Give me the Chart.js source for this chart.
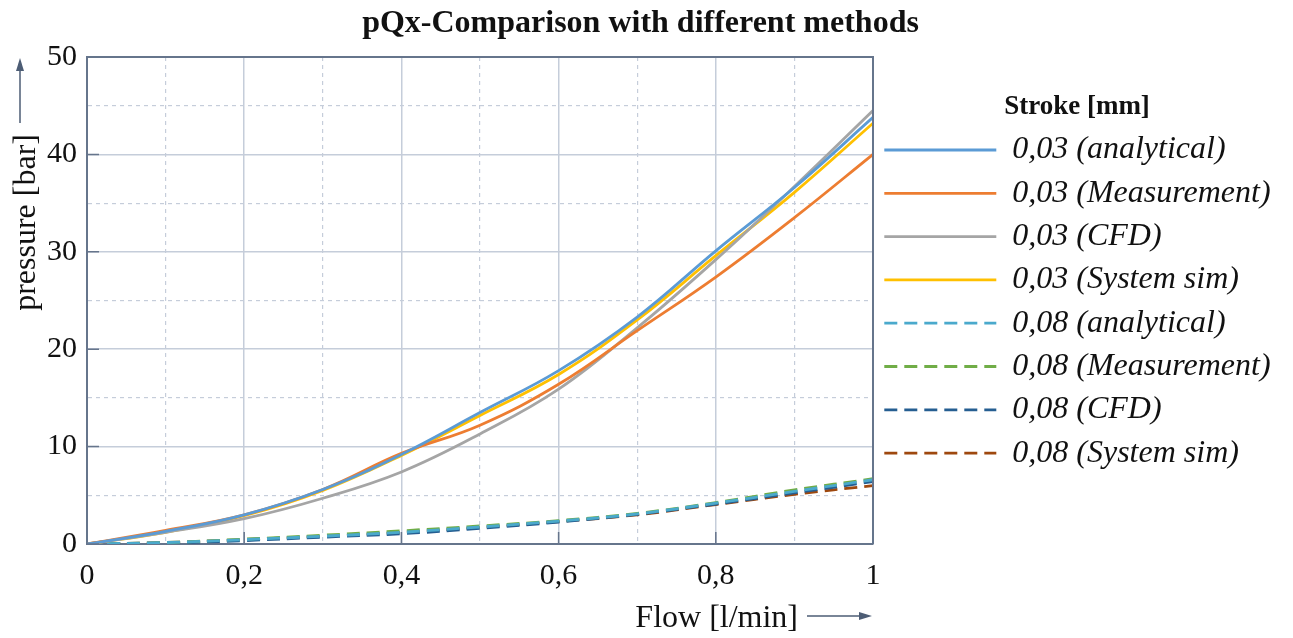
<!DOCTYPE html>
<html>
<head>
<meta charset="utf-8">
<script src="https://cdn.jsdelivr.net/npm/chart.js@4.4.1/dist/chart.umd.min.js"></script>
<style>
  html, body { margin: 0; padding: 0; background: #fff; }
</style>
</head>
<body>
<canvas id="pqxChart" width="1293" height="638"></canvas>
<script>
// flow in l/min, pressure in bar
var flow = [0, 0.1, 0.2, 0.3, 0.4, 0.5, 0.6, 0.7, 0.8, 0.9, 1.0];

var seriesLabels = [
  '0,03 (analytical)', '0,03 (Measurement)', '0,03 (CFD)', '0,03 (System sim)',
  '0,08 (analytical)', '0,08 (Measurement)', '0,08 (CFD)', '0,08 (System sim)'
];

var s003Analytical  = [0, 1.3, 3.0, 5.6, 9.2, 13.5, 17.8, 23.3, 30.1, 36.6, 43.8];
var s003Measurement = [0, 1.4, 3.0, 5.6, 9.3, 12.2, 16.4, 21.9, 27.4, 33.5, 40.0];
var s003Cfd         = [0, 1.2, 2.6, 4.7, 7.4, 11.3, 15.9, 22.2, 29.2, 36.7, 44.5];
var s003SystemSim   = [0, 1.2, 2.9, 5.5, 9.1, 13.2, 17.4, 23.0, 29.6, 36.1, 43.2];

var s008Analytical  = [0, 0.15, 0.45, 0.8, 1.2, 1.75, 2.35, 3.1, 4.2, 5.4, 6.6];
var s008Measurement = [0, 0.15, 0.5, 0.9, 1.35, 1.85, 2.4, 3.15, 4.25, 5.55, 6.7];
var s008Cfd         = [0, 0.1, 0.35, 0.7, 1.05, 1.6, 2.25, 3.05, 4.1, 5.25, 6.4];
var s008SystemSim   = [0, 0.15, 0.45, 0.8, 1.2, 1.7, 2.3, 3.0, 4.05, 5.1, 6.0];

var seriesValues = [
  s003Analytical, s003Measurement, s003Cfd, s003SystemSim,
  s008Analytical, s008Measurement, s008Cfd, s008SystemSim
];
var seriesColors = ['#5b9bd5', '#ed7d31', '#a5a5a5', '#ffc000', '#4aa9cc', '#70ad47', '#255e91', '#9e480e'];

var serif = "'Liberation Serif', 'Times New Roman', serif";
var gridColor = '#c5cdda';
var axisColor = '#66758c';

function commaNum(v) {
  var r = Math.round(v * 10) / 10;
  if (r === Math.round(r)) return String(Math.round(r));
  return r.toFixed(1).replace('.', ',');
}

var datasets = seriesValues.map(function (vals, i) {
  return {
    label: seriesLabels[i],
    data: vals.map(function (v, j) { return { x: flow[j], y: v }; }),
    borderColor: seriesColors[i],
    backgroundColor: seriesColors[i],
    borderWidth: 2.8,
    borderDash: i >= 4 ? [13, 7] : [],
    pointRadius: 0,
    tension: 0.4
  };
});

// frame on top/right, inward ticks, axis titles with arrows
var frameAndTitles = {
  id: 'frameAndTitles',
  afterInit: function (chart) {
    var lg = chart.legend;
    var fit = lg.fit.bind(lg);
    lg.fit = function () { fit(); lg.width = 408; };
  },
  afterDraw: function (chart) {
    var ctx = chart.ctx;
    var a = chart.chartArea;
    var xs = chart.scales.x, ys = chart.scales.y;
    ctx.save();
    ctx.strokeStyle = axisColor;
    ctx.lineWidth = 2;
    ctx.beginPath();
    ctx.moveTo(a.left, a.top); ctx.lineTo(a.right, a.top); ctx.lineTo(a.right, a.bottom);
    ctx.stroke();

    ctx.lineWidth = 1.5;
    ctx.beginPath();
    xs.ticks.forEach(function (t) {
      if (Math.round(t.value * 10) % 2 !== 0) return;
      var px = xs.getPixelForValue(t.value);
      ctx.moveTo(px, a.bottom); ctx.lineTo(px, a.bottom - 12);
    });
    ys.ticks.forEach(function (t) {
      if (Math.round(t.value) % 10 !== 0) return;
      var py = ys.getPixelForValue(t.value);
      ctx.moveTo(a.left, py); ctx.lineTo(a.left + 12, py);
    });
    ctx.stroke();

    ctx.fillStyle = '#111';
    ctx.font = '32px ' + serif;
    ctx.textBaseline = 'alphabetic';
    ctx.textAlign = 'right';
    ctx.fillText('Flow [l/min]', a.right - 75, 627);

    ctx.save();
    ctx.translate(35, a.top + 77);
    ctx.rotate(-Math.PI / 2);
    ctx.textAlign = 'right';
    ctx.fillText('pressure [bar]', 0, 0);
    ctx.restore();

    ctx.strokeStyle = '#4d5d75';
    ctx.fillStyle = '#4d5d75';
    ctx.lineWidth = 1.5;
    drawArrow(ctx, a.right - 66, 616, a.right - 1, 616);
    drawArrow(ctx, 20, a.top + 66, 20, a.top + 1);
    ctx.restore();
  }
};

function drawArrow(ctx, x1, y1, x2, y2) {
  var ang = Math.atan2(y2 - y1, x2 - x1);
  var len = 13, half = 4;
  var bx = x2 - len * Math.cos(ang), by = y2 - len * Math.sin(ang);
  ctx.beginPath();
  ctx.moveTo(x1, y1); ctx.lineTo(bx, by);
  ctx.stroke();
  ctx.beginPath();
  ctx.moveTo(x2, y2);
  ctx.lineTo(bx + half * Math.sin(ang), by - half * Math.cos(ang));
  ctx.lineTo(bx - half * Math.sin(ang), by + half * Math.cos(ang));
  ctx.closePath();
  ctx.fill();
}

var ctx = document.getElementById('pqxChart').getContext('2d');
var pqxChart = new Chart(ctx, {
  type: 'line',
  data: { datasets: datasets },
  plugins: [frameAndTitles],
  options: {
    responsive: false,
    animation: false,
    layout: { padding: { left: 0, right: 12, top: 0, bottom: 30 } },
    plugins: {
      title: {
        display: true,
        text: 'pQx-Comparison with different methods',
        color: '#111',
        font: { family: serif, size: 32, weight: 'bold' },
        padding: { top: 5, bottom: 13.6 }
      },
      legend: {
        position: 'right',
        align: 'start',
        title: {
          display: true,
          text: 'Stroke [mm]',
          color: '#111',
          font: { family: serif, size: 27, weight: 'bold', lineHeight: 1 },
          padding: { top: 94, bottom: 1.7 }
        },
        labels: {
          usePointStyle: true,
          pointStyle: 'line',
          pointStyleWidth: 112,
          padding: 11.3,
          color: '#111',
          font: { family: serif, size: 32, style: 'italic' },
          generateLabels: function (chart) {
            var items = Chart.defaults.plugins.legend.labels.generateLabels(chart);
            items.forEach(function (it) {
              var ds = chart.data.datasets[it.datasetIndex];
              it.lineDash = ds.borderDash;
              it.lineWidth = ds.borderWidth;
            });
            return items;
          }
        }
      },
      tooltip: { enabled: false }
    },
    scales: {
      x: {
        type: 'linear',
        min: 0,
        max: 1,
        ticks: {
          stepSize: 0.1,
          padding: 14,
          color: '#111',
          font: { family: serif, size: 30 },
          callback: function (v) { return Math.round(v * 10) % 2 === 0 ? commaNum(v) : ''; }
        },
        grid: {
          drawTicks: false,
          color: gridColor,
          lineWidth: function (c) { return c.tick && Math.round(c.tick.value * 10) % 2 !== 0 ? 1.2 : 1.5; }
        },
        border: {
          color: axisColor,
          width: 2,
          dash: function (c) { return c.tick && Math.round(c.tick.value * 10) % 2 !== 0 ? [4, 4] : []; }
        }
      },
      y: {
        min: 0,
        max: 50,
        afterFit: function (scale) { scale.width = 87; },
        ticks: {
          stepSize: 5,
          padding: 10,
          color: '#111',
          font: { family: serif, size: 30 },
          callback: function (v) { return v % 10 === 0 ? String(v) : ''; }
        },
        grid: {
          drawTicks: false,
          color: gridColor,
          lineWidth: function (c) { return c.tick && c.tick.value % 10 !== 0 ? 1.2 : 1.5; }
        },
        border: {
          color: axisColor,
          width: 2,
          dash: function (c) { return c.tick && c.tick.value % 10 !== 0 ? [4, 4] : []; }
        }
      }
    }
  }
});
</script>
</body>
</html>
